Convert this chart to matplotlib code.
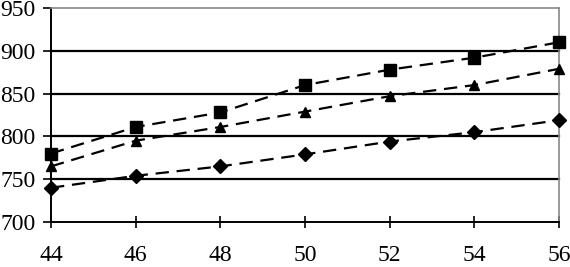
import matplotlib
matplotlib.use("Agg")
import matplotlib.pyplot as plt

x_values = [44, 46, 48, 50, 52, 54, 56]
square_series = [780, 811, 828, 860, 878, 892, 910]
triangle_series = [765, 795, 811, 829, 847, 860, 879]
diamond_series = [740, 754, 765, 779, 794, 805, 819]
y_ticks = [700, 750, 800, 850, 900, 950]

plt.rcParams["font.family"] = ["Liberation Serif", "DejaVu Serif"]

fig = plt.figure(figsize=(5.7, 2.67), dpi=100)
ax = fig.add_axes([0.0895, 0.1685, 0.8915, 0.8015])

for y in y_ticks[1:-1]:
    ax.axhline(y, color="black", linewidth=1.6, zorder=1)

dash = (0, (6, 3.5))
ax.plot(x_values, square_series, color="black", linestyle=dash, linewidth=1.6,
        marker="s", markersize=8, zorder=3)
ax.plot(x_values, triangle_series, color="black", linestyle=dash, linewidth=1.6,
        marker="^", markersize=6.5, zorder=3)
ax.plot(x_values, diamond_series, color="black", linestyle=dash, linewidth=1.6,
        marker="D", markersize=7, zorder=3)

ax.set_xlim(44, 56)
ax.set_ylim(700, 950)
ax.set_xticks(x_values)
ax.set_yticks(y_ticks)
ax.tick_params(axis="x", direction="inout", length=9, width=1.2, pad=12, labelsize=17)
ax.tick_params(axis="y", direction="out", length=6, width=1.2, pad=5, labelsize=17)

ax.spines["left"].set_color("black")
ax.spines["bottom"].set_color("black")
ax.spines["left"].set_linewidth(1.4)
ax.spines["bottom"].set_linewidth(1.4)
ax.spines["top"].set_color("#888888")
ax.spines["right"].set_color("#888888")
ax.spines["top"].set_linewidth(1.2)
ax.spines["right"].set_linewidth(1.2)

for line in ax.get_lines():
    line.set_clip_on(False)

fig.savefig("out.png", dpi=100)
